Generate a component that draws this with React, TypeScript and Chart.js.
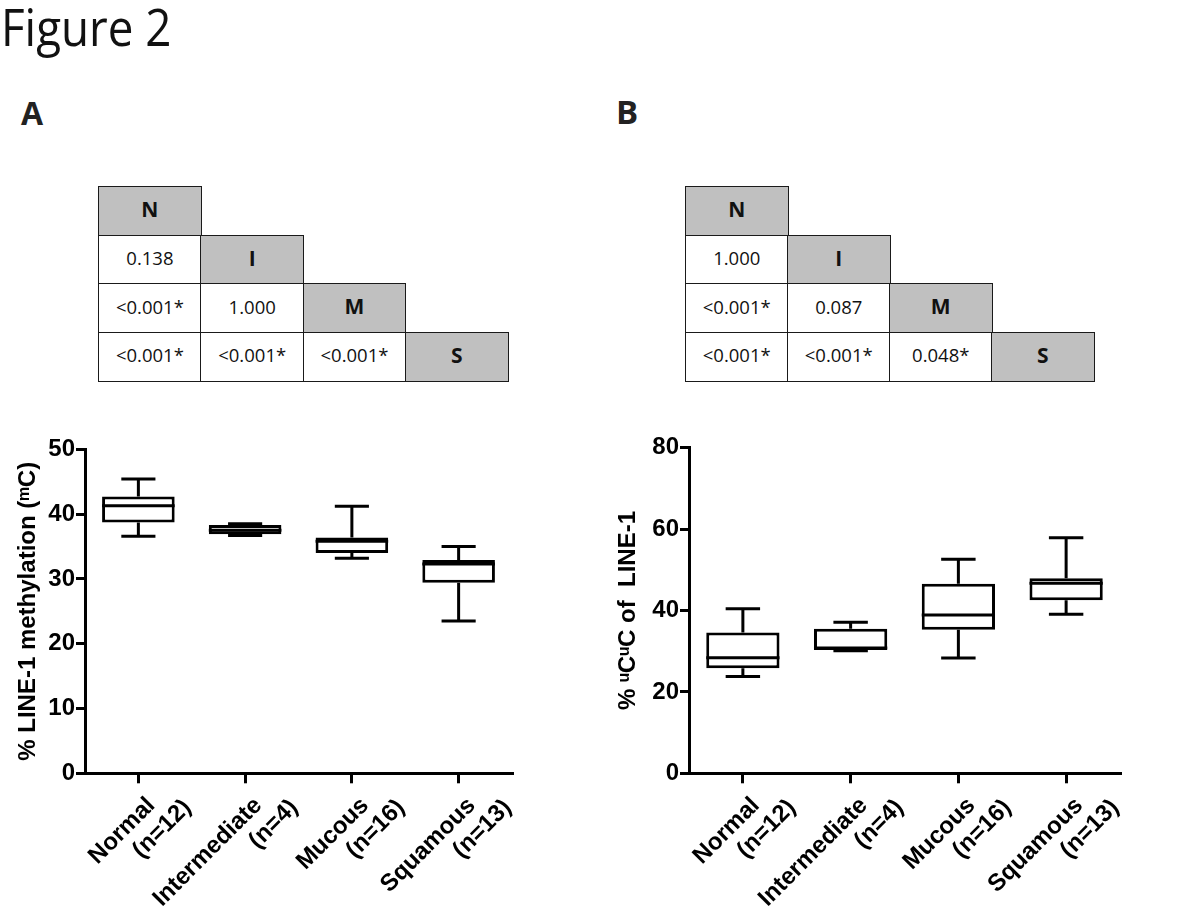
import React, { useEffect, useRef } from "react";
import { Chart, registerables } from "chart.js";

Chart.register(...registerables);

// ---------- data ----------
const categories: string[][] = [
  ["Normal\u2003", "(n=12)"],
  ["Intermediate\u2003", "(n=4)"],
  ["Mucous\u2003", "(n=16)"],
  ["Squamous\u2003", "(n=13)"],
];

// Panel A: % LINE-1 methylation
const methMin = [36.6, 36.7, 33.2, 23.5];
const methQ1 = [38.7, 36.9, 34.0, 29.4];
const methMedian = [41.3, 37.5, 35.8, 32.3];
const methQ3 = [42.7, 38.3, 36.4, 32.9];
const methMax = [45.4, 38.5, 41.2, 35.0];
const methAxisMax = 50;
const methAxisStep = 10;

// Panel B: % uCuC of LINE-1
const unmethMin = [23.8, 30.1, 28.3, 39.1];
const unmethQ1 = [25.8, 30.3, 35.3, 42.5];
const unmethMedian = [28.4, 30.8, 38.9, 46.7];
const unmethQ3 = [34.6, 35.5, 46.6, 47.9];
const unmethMax = [40.4, 37.1, 52.6, 57.9];
const unmethAxisMax = 80;
const unmethAxisStep = 20;

// p-value tables
const tableHeaders = ["N", "I", "M", "S"];
const pValuesA = [["0.138"], ["<0.001*", "1.000"], ["<0.001*", "<0.001*", "<0.001*"]];
const pValuesB = [["1.000"], ["<0.001*", "0.087"], ["<0.001*", "<0.001*", "0.048*"]];

// ---------- styling ----------
const ARIAL = '"Liberation Sans", Arial, sans-serif';
const CAL = '"Open Sans", "Noto Sans", sans-serif';

type Stats = { min: number[]; q1: number[]; median: number[]; q3: number[]; max: number[] };

function makeBoxPlugin(stats: Stats) {
  return {
    id: "boxWhisker",
    afterDatasetsDraw(chart: any) {
      const meta = chart.getDatasetMeta(0);
      const y = chart.scales.y;
      const ctx = chart.ctx;
      ctx.save();
      ctx.strokeStyle = "#000";
      ctx.lineWidth = 3;
      ctx.lineCap = "butt";
      meta.data.forEach((bar: any, i: number) => {
        const { x, width } = bar.getProps(["x", "width"], true);
        const half = width / 2;
        const cap = width * 0.235;
        const pMin = y.getPixelForValue(stats.min[i]);
        const pQ1 = y.getPixelForValue(stats.q1[i]);
        const pMed = y.getPixelForValue(stats.median[i]);
        const pQ3 = y.getPixelForValue(stats.q3[i]);
        const pMax = y.getPixelForValue(stats.max[i]);
        ctx.beginPath();
        ctx.moveTo(x - half, pMed);
        ctx.lineTo(x + half, pMed);
        ctx.moveTo(x, pQ3);
        ctx.lineTo(x, pMax);
        ctx.moveTo(x - cap, pMax);
        ctx.lineTo(x + cap, pMax);
        ctx.moveTo(x, pQ1);
        ctx.lineTo(x, pMin);
        ctx.moveTo(x - cap, pMin);
        ctx.lineTo(x + cap, pMin);
        ctx.stroke();
      });
      ctx.restore();
    },
  };
}

type Area = { left: number; right: number; top: number; bottom: number };

function BoxChart(props: {
  left: number;
  top: number;
  width: number;
  height: number;
  area: Area;
  yMax: number;
  yStep: number;
  yTitle: string;
  stats: Stats;
}) {
  const ref = useRef<HTMLCanvasElement | null>(null);
  const { left, top, width, height, area, yMax, yStep, yTitle, stats } = props;
  useEffect(() => {
    if (!ref.current) return;
    const chart = new Chart(ref.current, {
      type: "bar",
      data: {
        labels: categories as any,
        datasets: [
          {
            data: stats.q1.map((v, i) => [v, stats.q3[i]]) as any,
            backgroundColor: "#fff",
            borderColor: "#000",
            borderWidth: 3,
            borderSkipped: false,
            barPercentage: 0.68,
            categoryPercentage: 1,
          },
        ],
      },
      options: {
        animation: false,
        responsive: false,
        events: [],
        layout: { padding: { top: area.top, right: width - area.right, left: 0, bottom: 0 } },
        plugins: { legend: { display: false }, tooltip: { enabled: false } },
        scales: {
          x: {
            offset: true,
            grid: {
              offset: false,
              drawOnChartArea: false,
              drawTicks: true,
              tickLength: 10,
              lineWidth: 3,
              color: "#000",
            },
            border: { display: true, color: "#000", width: 3 },
            ticks: {
              color: "#000",
              autoSkip: false,
              maxRotation: 45,
              minRotation: 45,
              padding: -8,
              labelOffset: 30,
              font: { family: ARIAL, size: 24, weight: "bold", lineHeight: 1.12 },
            },
            afterFit: (s: any) => {
              s.height = height - area.bottom;
            },
          },
          y: {
            min: 0,
            max: yMax,
            ticks: {
              stepSize: yStep,
              color: "#000",
              padding: 1,
              font: { family: ARIAL, size: 24, weight: "bold" },
            },
            grid: {
              drawOnChartArea: false,
              drawTicks: true,
              tickLength: 9,
              lineWidth: 3,
              color: "#000",
            },
            border: { display: true, color: "#000", width: 3 },
            title: {
              display: true,
              text: yTitle,
              color: "#000",
              font: { family: ARIAL, size: 24, weight: "bold", lineHeight: 1.2 },
              padding: { top: 14, bottom: 0 },
            },
            afterFit: (s: any) => {
              s.width = area.left;
            },
          },
        },
      } as any,
      plugins: [makeBoxPlugin(stats)],
    });
    return () => chart.destroy();
  }, []);
  return (
    <div style={{ position: "absolute", left, top, width, height }}>
      <canvas ref={ref} width={width} height={height} style={{ width, height, display: "block" }} />
    </div>
  );
}

function PTable(props: { left: number; top: number; colW: number; rowH: number; values: string[][] }) {
  const { left, top, colW, rowH, values } = props;
  const cells: React.ReactNode[] = [];
  for (let r = 0; r < tableHeaders.length; r++) {
    for (let c = 0; c <= r; c++) {
      const isHeader = c === r;
      const text = isHeader ? tableHeaders[r] : values[r - 1][c];
      cells.push(
        <div
          key={r + "-" + c}
          style={{
            position: "absolute",
            left: left + c * colW,
            top: top + r * rowH,
            width: colW + 1.5,
            height: rowH + 1.5,
            boxSizing: "border-box",
            border: "1.5px solid #1a1a1a",
            background: isHeader ? "#c0c0c0" : "#fff",
            display: "flex",
            alignItems: "center",
            justifyContent: "center",
            paddingBottom: 4,
            fontFamily: CAL,
            fontSize: isHeader ? 21 : 18.5,
            fontWeight: isHeader ? 700 : 400,
            color: "#111",
          }}
        >
          {text}
        </div>
      );
    }
  }
  return <>{cells}</>;
}

export default function App() {
  return (
    <div
      style={{
        position: "absolute",
        left: 0,
        top: 0,
        width: 1200,
        height: 910,
        background: "#fff",
        overflow: "hidden",
      }}
    >
      <div
        style={{
          position: "absolute",
          left: 1,
          top: 0,
          fontFamily: CAL,
          fontSize: 52,
          lineHeight: "52px",
          color: "#111",
          whiteSpace: "nowrap",
          transform: "scaleX(0.88)",
          transformOrigin: "left top",
        }}
      >
        Figure 2
      </div>
      <div
        style={{
          position: "absolute",
          left: 21,
          top: 97,
          fontFamily: CAL,
          fontWeight: 700,
          fontSize: 32,
          lineHeight: "32px",
          color: "#222",
        }}
      >
        A
      </div>
      <div
        style={{
          position: "absolute",
          left: 616,
          top: 95,
          fontFamily: CAL,
          fontWeight: 700,
          fontSize: 33,
          lineHeight: "33px",
          color: "#222",
        }}
      >
        B
      </div>

      <PTable left={98} top={186} colW={102.3} rowH={48.5} values={pValuesA} />
      <PTable left={685} top={186} colW={102} rowH={48.5} values={pValuesB} />

      <BoxChart
        left={0}
        top={400}
        width={600}
        height={510}
        area={{ left: 85, right: 512, top: 49.3, bottom: 373.3 }}
        yMax={methAxisMax}
        yStep={methAxisStep}
        yTitle={"% LINE-1 methylation (\u1D50C)"}
        stats={{ min: methMin, q1: methQ1, median: methMedian, q3: methQ3, max: methMax }}
      />
      <BoxChart
        left={600}
        top={400}
        width={600}
        height={510}
        area={{ left: 89, right: 520, top: 47.7, bottom: 373.3 }}
        yMax={unmethAxisMax}
        yStep={unmethAxisStep}
        yTitle={"% \u1D58C\u1D58C of  LINE-1"}
        stats={{ min: unmethMin, q1: unmethQ1, median: unmethMedian, q3: unmethQ3, max: unmethMax }}
      />
    </div>
  );
}
